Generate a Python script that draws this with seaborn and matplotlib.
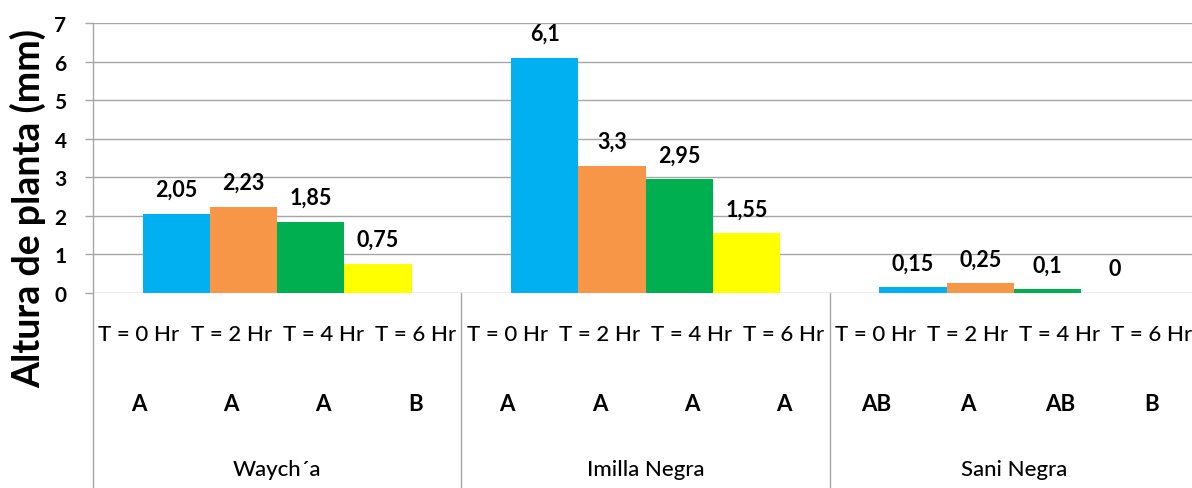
import matplotlib
matplotlib.use("Agg")
import matplotlib.pyplot as plt
import matplotlib.transforms as mtransforms
from matplotlib.lines import Line2D
import pandas as pd
import seaborn as sns

# --- data -------------------------------------------------------------
varieties = ["Waych´a", "Imilla Negra", "Sani Negra"]
times = ["T = 0 Hr", "T = 2 Hr", "T = 4 Hr", "T = 6 Hr"]

t0_hr = [2.05, 6.1, 0.15]
t2_hr = [2.23, 3.3, 0.25]
t4_hr = [1.85, 2.95, 0.1]
t6_hr = [0.75, 1.55, 0.0]

# significance letters per variety, in time order
letters_waycha = ["A", "A", "A", "B"]
letters_imilla = ["A", "A", "A", "A"]
letters_sani = ["AB", "A", "AB", "B"]

colors = ["#00B0F0", "#F79646", "#00B050", "#FFFF00"]

series = [t0_hr, t2_hr, t4_hr, t6_hr]
letters = [letters_waycha, letters_imilla, letters_sani]

df = pd.DataFrame(
    [(v, t, series[i][j]) for i, t in enumerate(times) for j, v in enumerate(varieties)],
    columns=["variedad", "tiempo", "altura"],
)

# --- style ------------------------------------------------------------
sns.set_style("white")
plt.rcParams["font.family"] = ["Lato", "DejaVu Sans"]
plt.rcParams["text.color"] = "black"
plt.rcParams["ytick.color"] = "black"
grid_color = "#A6A6A6"

W, H = 1192, 489
fig = plt.figure(figsize=(W / 100, H / 100), dpi=100)
left_px, right_px, top_px, base_px = 93, 1198, 24, 294
ax = fig.add_axes([left_px / W, 1 - base_px / H,
                   (right_px - left_px) / W, (base_px - top_px) / H])

sns.barplot(data=df, x="variedad", y="altura", hue="tiempo",
            order=varieties, hue_order=times, palette=colors,
            width=0.73, saturation=1, linewidth=0, legend=False, ax=ax)

ax.set_xlim(-0.5, 2.5)
ax.set_ylim(0, 7)
ax.set_yticks(range(0, 8))
ax.set_axisbelow(True)
ax.yaxis.grid(True, color=grid_color, linewidth=1.0)
ax.xaxis.grid(False)
for side in ("top", "right", "bottom"):
    ax.spines[side].set_visible(False)
ax.spines["left"].set_color(grid_color)
ax.spines["left"].set_linewidth(1.0)
ax.tick_params(axis="y", length=6, width=1.0, color=grid_color, pad=13,
               labelsize=15, labelcolor="black", left=True)
for lbl in ax.get_yticklabels():
    lbl.set_fontweight("bold")
ax.set_xticks([])
ax.set_xlabel("")
ax.set_ylabel("")

# value labels above bars
for container, vals in zip(ax.containers, series):
    ax.bar_label(container, labels=[f"{v:g}".replace(".", ",") for v in vals],
                 padding=10, fontsize=15.5, fontweight="bold", color="black")

# multi-level category axis: time and letter rows split each variety in four
trans = mtransforms.blended_transform_factory(ax.transData, ax.transAxes)
axis_h = base_px - top_px
row_time = -(335 - base_px) / axis_h
row_letter = -(405 - base_px) / axis_h
row_group = -(470 - base_px) / axis_h
bottom = -(H - base_px) / axis_h
n_t = len(times)

for j, name in enumerate(varieties):
    for i, t in enumerate(times):
        xc = j - 0.5 + (i + 0.5) / n_t
        ax.text(xc, row_time, t, transform=trans, ha="center",
                va="center", fontsize=16, fontweight="medium")
        ax.text(xc, row_letter, letters[j][i], transform=trans, ha="center",
                va="center", fontsize=16, fontweight="bold")
    ax.text(j, row_group, name, transform=trans, ha="center", va="center",
            fontsize=16, fontweight="medium")

for xb in (-0.5, 0.5, 1.5, 2.5):
    ax.add_line(Line2D([xb, xb], [0, bottom], transform=trans,
                       color=grid_color, linewidth=1.0, clip_on=False))

fig.text(28 / W, 1 - 208 / H, "Altura de planta (mm)", rotation=90,
         ha="center", va="center", fontsize=27, fontweight="bold")

fig.savefig("out.png", dpi=100)
